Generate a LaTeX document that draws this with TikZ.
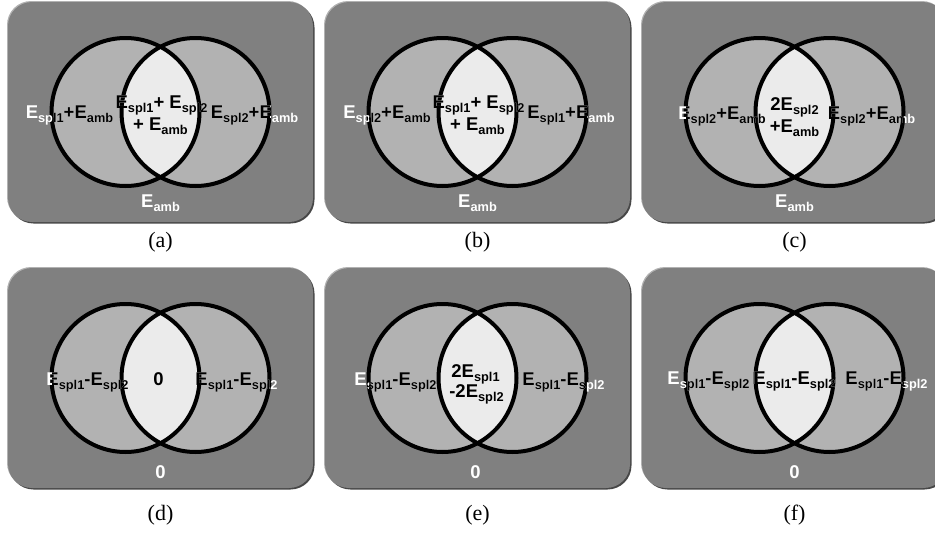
\documentclass[tikz,border=0pt]{standalone}
\usepackage{fontspec}
\setmainfont{Liberation Serif}
\newfontfamily\sansfam{Liberation Sans}
\usepackage{tikz}
\usetikzlibrary{calc}
\definecolor{boxgray}{HTML}{808080}
\definecolor{ringgray}{HTML}{B2B2B2}
\definecolor{capgray}{HTML}{EBEBEB}
\def\lblcol{white}
\newcommand{\lblfont}{\sansfam\bfseries\fontsize{18.5}{18.5}\selectfont}
\newcommand{\sbs}[1]{\raisebox{-4.5pt}{\fontsize{12.8}{12.8}\selectfont #1}}
\tikzstyle{panelbox}=[rounded corners=24pt, minimum width=305pt, minimum height=220pt,
  inner sep=0pt, fill=boxgray]
\tikzstyle{ring}=[draw=black, line width=4pt]
\tikzstyle{lbl}=[font=\lblfont, text=\lblcol, inner sep=0pt, anchor=base]
\tikzstyle{caption}=[font=\fontsize{22}{22}\selectfont, inner sep=0pt]
% #1 name, #2 centre, #3 caption, #4 caption drop, #5 labels
\newcommand{\venn}[5]{%
\begin{scope}[shift={#2}]
  % bevel of the panel
  \node[panelbox, fill=black!72] (#1-shadow) at (1.5,1.5) {};
  \node[panelbox, fill=black!30] (#1-light) at (-1,-1) {};
  \node[panelbox] (#1) at (0,0) {};
  % the two sets and their overlap
  \fill[ringgray] (-35,0) circle (74) (35,0) circle (74);
  \begin{scope}
    \clip (-35,0) circle (74);
    \fill[capgray] (35,0) circle (74);
  \end{scope}
  \draw[ring] (-35,0) circle (74);
  \draw[ring] (35,0) circle (74);
  % labels: white outside the sets, black inside
  \def\lblcol{white}#5
  \begin{scope}
    \clip (-35,0) circle (74) (35,0) circle (74);
    \def\lblcol{black}#5
  \end{scope}
  \node[caption] (#1-cap) at (0,#4) {#3};
\end{scope}}

\begin{document}
\begin{tikzpicture}[x=1pt,y=-1pt]
  \useasboundingbox (0,0) rectangle (935,533);
  \clip (0,0) rectangle (935,533);

  % Draw diagram elements

  \venn{pa}{(160.5,112)}{(a)}{130}{%
    \node[lbl] (pa-left) at (-91,6) {E\sbs{spl1}+E\sbs{amb}};
    \node[lbl] (pa-mid1) at (1,-4) {E\sbs{spl1}+ E\sbs{spl2}};
    \node[lbl] (pa-mid2) at (0,18) {+ E\sbs{amb}};
    \node[lbl] (pa-right) at (94,6) {E\sbs{spl2}+E\sbs{amb}};
    \node[lbl] (pa-out) at (0,95) {E\sbs{amb}};}

  \venn{pb}{(477.5,112)}{(b)}{130}{%
    \node[lbl] (pb-left) at (-90.5,6) {E\sbs{spl2}+E\sbs{amb}};
    \node[lbl] (pb-mid1) at (1,-4) {E\sbs{spl1}+ E\sbs{spl2}};
    \node[lbl] (pb-mid2) at (0,18) {+ E\sbs{amb}};
    \node[lbl] (pb-right) at (93.5,6) {E\sbs{spl1}+E\sbs{amb}};
    \node[lbl] (pb-out) at (0,95) {E\sbs{amb}};}

  \venn{pc}{(794.5,112)}{(c)}{130}{%
    \node[lbl] (pc-left) at (-72.5,7) {E\sbs{spl2}+E\sbs{amb}};
    \node[lbl] (pc-mid1) at (0,-2) {2E\sbs{spl2}};
    \node[lbl] (pc-mid2) at (0,20) {+E\sbs{amb}};
    \node[lbl] (pc-right) at (77,7) {E\sbs{spl2}+E\sbs{amb}};
    \node[lbl] (pc-out) at (0,95) {E\sbs{amb}};}

  \venn{pd}{(160.5,378)}{(d)}{137}{%
    \node[lbl] (pd-left) at (-73,7) {E\sbs{spl1}-E\sbs{spl2}};
    \node[lbl] (pd-mid) at (-2,7) {0};
    \node[lbl] (pd-right) at (76,7) {E\sbs{spl1}-E\sbs{spl2}};
    \node[lbl] (pd-out) at (0,100) {0};}

  \venn{pe}{(477.5,378)}{(e)}{137}{%
    \node[lbl] (pe-left) at (-82,7) {E\sbs{spl1}-E\sbs{spl2}};
    \node[lbl] (pe-mid1) at (-2,-1) {2E\sbs{spl1}};
    \node[lbl] (pe-mid2) at (-1,19) {-2E\sbs{spl2}};
    \node[lbl] (pe-right) at (86,7) {E\sbs{spl1}-E\sbs{spl2}};
    \node[lbl] (pe-out) at (-2,100) {0};}

  \venn{pf}{(794.5,378)}{(f)}{137}{%
    \node[lbl] (pf-left) at (-86,6) {E\sbs{spl1}-E\sbs{spl2}};
    \node[lbl] (pf-mid) at (0,6) {E\sbs{spl1}-E\sbs{spl2}};
    \node[lbl] (pf-right) at (92,6) {E\sbs{spl1}-E\sbs{spl2}};
    \node[lbl] (pf-out) at (0,100) {0};}

\end{tikzpicture}
\end{document}
